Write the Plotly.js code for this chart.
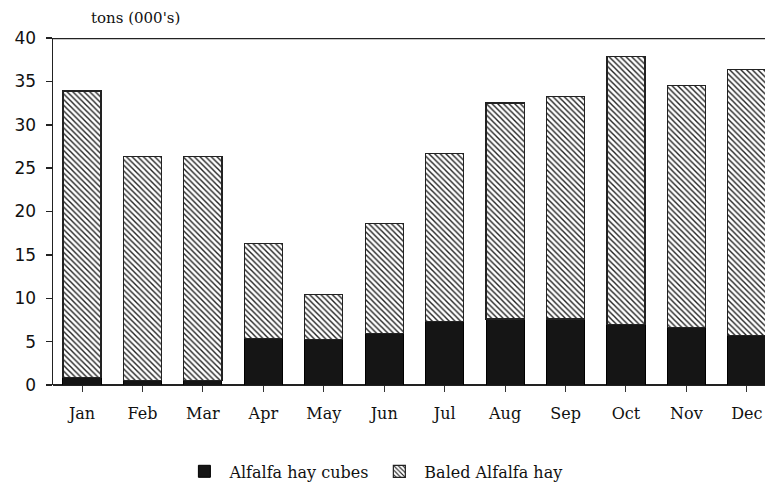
<!DOCTYPE html>
<html>
<head>
<meta charset="utf-8">
<script src="https://cdn.plot.ly/plotly-3.0.1.min.js"></script>
<style>html,body{margin:0;padding:0;background:#fff;}#chart{width:765px;height:484px;}</style>
</head>
<body>
<div id="chart"></div>
<script>
const months = ["Jan","Feb","Mar","Apr","May","Jun","Jul","Aug","Sep","Oct","Nov","Dec"];
const totals = [33.9, 26.3, 26.3, 16.3, 10.4, 18.6, 26.7, 32.5, 33.3, 37.9, 34.5, 36.4];
const cubes  = [0.9, 0.5, 0.5, 5.4, 5.2, 5.9, 7.3, 7.6, 7.6, 7.0, 6.6, 5.7];
const baled  = totals.map((t, i) => +(t - cubes[i]).toFixed(2));
const yTitle = "tons (000's)";
const seriesNames = ["Alfalfa hay cubes", "Baled Alfalfa hay"];

const font = "DejaVu Serif, serif";
const data = [
  {type: "bar", x: months, y: cubes, name: seriesNames[0],
   marker: {color: "#151515", line: {color: "#000", width: 1}}},
  {type: "bar", x: months, y: baled, name: seriesNames[1],
   marker: {color: "#ffffff", line: {color: "#222", width: 1.2},
            pattern: {shape: "\\", fgcolor: "#222", bgcolor: "#ffffff", size: 4, solidity: 0.35}}}
];
const layout = {
  width: 765, height: 484,
  margin: {l: 53, r: 0, t: 38, b: 99, autoexpand: false},
  barmode: "stack", bargap: 0.37,
  paper_bgcolor: "#fff", plot_bgcolor: "#fff",
  font: {family: font, color: "#111", size: 14},
  showlegend: true,
  legend: {orientation: "h", x: 0.45, xanchor: "center", y: -0.2, yanchor: "top",
           font: {family: font, size: 16}, itemwidth: 40, traceorder: "normal"},
  xaxis: {range: [-0.48, 11.3], showgrid: false, zeroline: false, showline: false,
          ticks: "outside", ticklen: 6, tickcolor: "#333", tickwidth: 1, ticklabelstandoff: 8,
          tickfont: {family: font, size: 16}, fixedrange: true},
  yaxis: {range: [0, 40], dtick: 5, showgrid: false, zeroline: true, zerolinecolor: "#222", zerolinewidth: 1.5,
          showline: true, linecolor: "#222", linewidth: 1.5,
          ticks: "outside", ticklen: 6, tickcolor: "#222", tickwidth: 1.5, ticklabelstandoff: 6,
          tickfont: {family: "DejaVu Sans, sans-serif", size: 17, color: "#111"}, fixedrange: true},
  shapes: [{type: "line", xref: "paper", yref: "y", x0: 0, x1: 1, y0: 40, y1: 40,
            line: {color: "#222", width: 2.5}}],
  annotations: [{text: yTitle, xref: "paper", yref: "paper", x: 0.05, y: 1.025,
                 xanchor: "left", yanchor: "bottom", showarrow: false,
                 font: {family: font, size: 15, color: "#111"}}]
};
Plotly.newPlot("chart", data, layout, {displayModeBar: false, staticPlot: true});
</script>
</body>
</html>
